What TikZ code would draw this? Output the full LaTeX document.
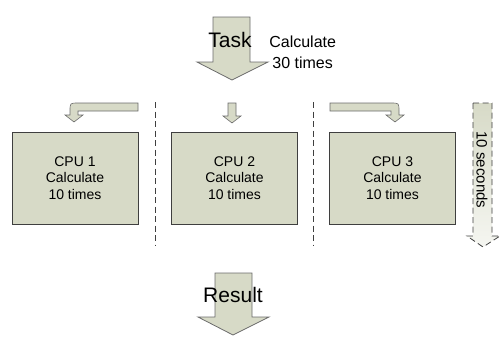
\documentclass[tikz,border=0pt]{standalone}
\usepackage{fontspec}
\setmainfont{Liberation Sans}
\usepackage{tikz}
\usetikzlibrary{positioning,shapes.geometric}
\definecolor{olivefill}{HTML}{D7DAC7}
\definecolor{edge}{HTML}{3F3F3F}
\definecolor{arrowedge}{HTML}{6B6B6B}

\begin{document}
\begin{tikzpicture}[x=1pt,y=-1pt,
  cpu/.style={draw=edge,line width=0.9pt,fill=olivefill,minimum width=126pt,minimum height=92pt,align=center,
    font=\fontsize{14}{16.5}\selectfont},
  fatarrow/.style={draw=arrowedge,line width=0.8pt,fill=olivefill,line join=miter},
  slim/.style={draw=arrowedge,line width=0.6pt,fill=olivefill},
  divider/.style={draw=edge,line width=0.8pt,dash pattern=on 6pt off 3.5pt},
  timearrow/.style={draw=edge,line width=0.8pt,dash pattern=on 6pt off 3.5pt,top color=olivefill,bottom color=olivefill!25},
  big/.style={font=\fontsize{21}{24}\selectfont,inner sep=0pt}]
\useasboundingbox (0,0) rectangle (501,343);

% task comes in
\draw[fatarrow] (213,17) -- (250,17) -- (250,62) -- (268,62) -- (232,80) -- (197,62) -- (213,62) -- cycle;
\node[big] (task) at (230,40) {Task};
\node[align=center,font=\fontsize{16}{21}\selectfont,right=14pt of task.east,anchor=west,yshift=-12pt] (total) {Calculate\\30 times};

% split over three cpus
\node[cpu] (cpu1) at (75,178) {CPU 1\\Calculate\\10 times};
\node[cpu] (cpu2) at (234.5,178) {CPU 2\\Calculate\\10 times};
\node[cpu] (cpu3) at (392.5,178) {CPU 3\\Calculate\\10 times};

\coordinate (d1top) at (155,102); \coordinate (d1bot) at (155,245);
\coordinate (d2top) at (313,102); \coordinate (d2bot) at (313,245);
\draw[divider] (d1top) -- (d1bot);
\draw[divider] (d2top) -- (d2bot);

\draw[slim] (138,103) -- (78,103) .. controls (70,103) .. (70,111) -- (70,115) -- (65,115) -- (74,122) -- (83,115) -- (78,115) -- (78,111) -- (138,111) -- cycle;
\draw[slim] (228,103) -- (236,103) -- (236,116) -- (241,116) -- (232,123) -- (223,116) -- (228,116) -- cycle;
\draw[slim] (330,103) -- (391,103) .. controls (399,103) .. (399,111) -- (399,115) -- (404,115) -- (395,122) -- (386,115) -- (391,115) -- (391,111) -- (330,111) -- cycle;

% time axis
\draw[timearrow] (473,103) -- (492,103) -- (492,236) -- (500,236) -- (483,247) -- (467,236) -- (473,236) -- cycle;
\node[rotate=-90,font=\fontsize{15}{18}\selectfont,inner sep=0pt] (secs) at (482,170) {10 seconds};

% result goes out
\draw[fatarrow] (215,273) -- (252,273) -- (252,317) -- (269,317) -- (233,335) -- (198,317) -- (215,317) -- cycle;
\node[big] (result) at (233,295) {Result};
\end{tikzpicture}
\end{document}
